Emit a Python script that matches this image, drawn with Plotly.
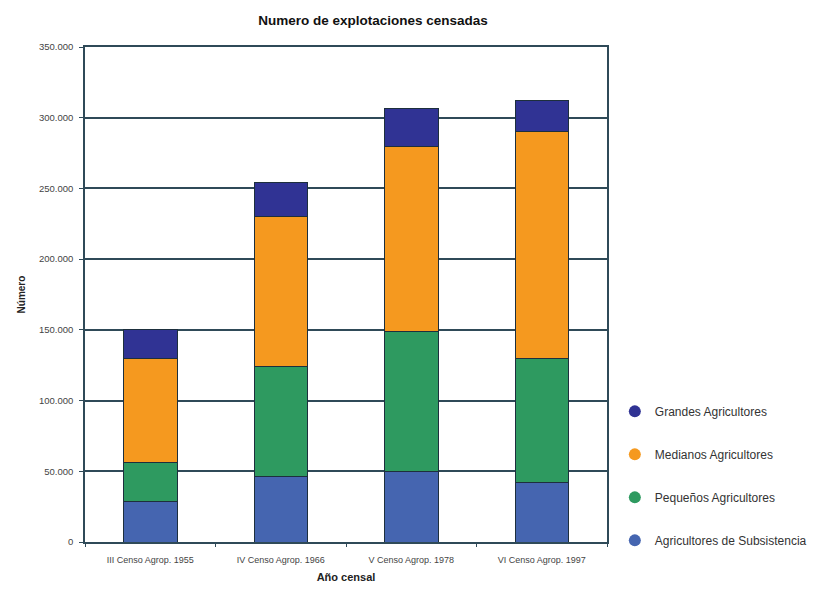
import plotly.graph_objects as go

categories = ["III Censo Agrop. 1955", "IV Censo Agrop. 1966", "V Censo Agrop. 1978", "VI Censo Agrop. 1997"]
series_names = ["Agricultores de Subsistencia", "Pequeños Agricultores", "Medianos Agricultores", "Grandes Agricultores"]
subsistencia = [28300, 46000, 49500, 42400]
pequenos = [27600, 77800, 99000, 87700]
medianos = [73500, 106700, 131500, 159900]
grandes = [21100, 23400, 26200, 21900]
y_ticks = [0, 50000, 100000, 150000, 200000, 250000, 300000, 350000]

colors = ["#4565B0", "#2E9A60", "#F5991F", "#303394"]
values = [subsistencia, pequenos, medianos, grandes]

fig = go.Figure()
for name, vals, col in zip(series_names, values, colors):
    fig.add_trace(go.Bar(
        x=categories, y=vals, name=name, showlegend=False,
        marker=dict(color=col, line=dict(color="#1d2f3d", width=1)),
        width=0.41,
    ))
# legend entries (top to bottom: Grandes ... Subsistencia)
for i, (name, col) in enumerate(zip(series_names[::-1], colors[::-1])):
    fig.add_trace(go.Scatter(
        x=[None], y=[None], mode="markers", name=name,
        legendgroup=f"g{i}",
        marker=dict(color=col, size=15, symbol="circle"),
    ))

grid_col = "#2f4a58"
fig.update_layout(
    width=818, height=589,
    barmode="stack",
    separators=",.",
    paper_bgcolor="white", plot_bgcolor="white",
    margin=dict(l=85, r=211, t=47, b=47, autoexpand=False),
    title=dict(text="<b>Numero de explotaciones censadas</b>", x=0.456, xanchor="center",
               y=0.965, yanchor="middle",
               font=dict(family="Liberation Sans", size=13.5, color="#111")),
    font=dict(family="Liberation Sans", color="#333"),
    legend=dict(traceorder="grouped", tracegroupgap=24, x=1.015, xanchor="left",
                y=-0.026, yanchor="bottom", font=dict(size=12, color="#333"),
                itemsizing="constant", bgcolor="rgba(0,0,0,0)"),
    xaxis=dict(
        title=dict(text="<b>Año censal</b>", font=dict(size=11, color="#222"), standoff=10),
        tickfont=dict(size=9, color="#444"), ticklabelstandoff=8,
        showline=True, mirror=True, linecolor=grid_col, linewidth=1.5,
        ticks="outside", tickson="boundaries", ticklen=3, tickcolor=grid_col,
        showgrid=False,
    ),
    yaxis=dict(
        title=dict(text="<b>Número</b>", font=dict(size=10, color="#222"), standoff=12),
        range=[0, 350000], tickvals=y_ticks, tickformat=",d",
        tickfont=dict(size=9.5, color="#444"), ticklabelstandoff=4,
        showline=True, mirror=True, linecolor=grid_col, linewidth=1.5,
        ticks="outside", ticklen=4, tickcolor=grid_col,
        showgrid=True, gridcolor=grid_col, gridwidth=1.5, zeroline=False,
    ),
)

fig.write_html("out.html")
